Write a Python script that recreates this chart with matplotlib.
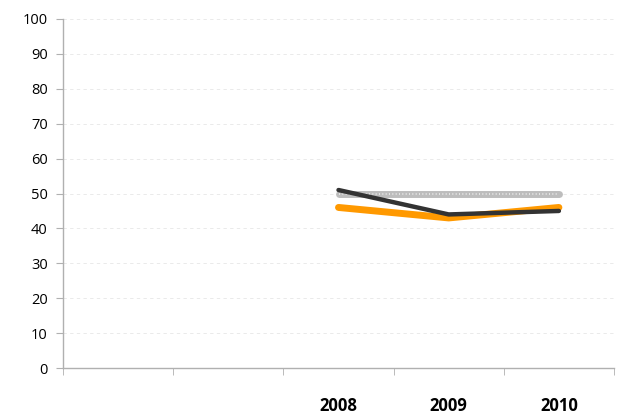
import matplotlib
matplotlib.use("Agg")
import matplotlib.pyplot as plt
import numpy as np

categories = ["", "", "2008", "2009", "2010"]
gray_series = [None, None, 50, 50, 50]
orange_series = [None, None, 46, 43, 46]
black_series = [None, None, 51, 44, 45]

plt.rcParams['font.family'] = ['Open Sans', 'DejaVu Sans']

fig = plt.figure(figsize=(6.23, 4.17), dpi=100)
ax = fig.add_axes([63/623, 1-368/417, (614-63)/623, (368-19)/417])

x = np.arange(len(categories))
def arr(s):
    return np.array([np.nan if v is None else v for v in s], dtype=float)

ax.plot(x, arr(gray_series), color="#bdbdbd", lw=5, solid_capstyle="round", zorder=3)
ax.plot(x, arr(gray_series), color="#ffffff", lw=1.2, ls=(0, (0.6, 1.4)), zorder=3.1, alpha=0.7)
ax.plot(x, arr(orange_series), color="#ff9900", lw=5, solid_capstyle="round", zorder=4)
ax.plot(x, arr(black_series), color="#333333", lw=3.2, solid_capstyle="round", zorder=5)

ax.set_xlim(-0.5, len(categories) - 0.5)
ax.set_ylim(0, 100)
ax.set_yticks(np.arange(0, 101, 10))
ax.set_xticks(x)
ax.set_xticklabels(categories, fontweight="bold", fontsize=12)
ax.set_xticks(np.arange(-0.5, len(categories), 1), minor=True)
ax.tick_params(axis="x", which="major", length=0, pad=21)
ax.tick_params(axis="x", which="minor", length=5, color="#b0b0b0", direction="out")
ax.tick_params(axis="y", length=5, color="#b0b0b0", labelsize=10.5, pad=6)

for v in range(10, 101, 10):
    ax.axhline(v, color="#e6e6e6", lw=0.6, ls=(0, (4, 4)), zorder=1)

for s in ["top", "right"]:
    ax.spines[s].set_visible(False)
for s in ["left", "bottom"]:
    ax.spines[s].set_color("#b0b0b0")
    ax.spines[s].set_linewidth(1)

fig.savefig("out.png", dpi=100)
